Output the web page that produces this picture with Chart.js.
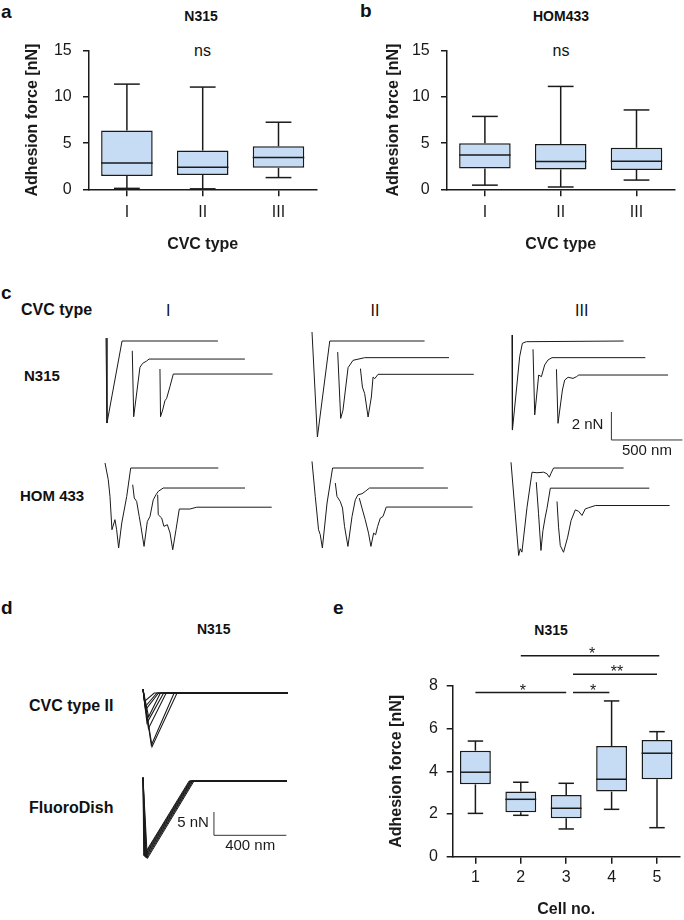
<!DOCTYPE html>
<html>
<head>
<meta charset="utf-8">
<script src="https://cdn.jsdelivr.net/npm/chart.js@4.4.1/dist/chart.umd.min.js"></script>
<style>
  html, body { margin: 0; padding: 0; }
  body { width: 684px; height: 920px; position: relative; overflow: hidden; background: #fff;
         font-family: "Liberation Sans", Arial, sans-serif; color: #111; }
  canvas { position: absolute; }
  .lbl { position: absolute; white-space: nowrap; line-height: 1; transform: translateY(-50%); }
  .mid { transform: translate(-50%, -50%); }
  .b { font-weight: bold; }
</style>
</head>
<body>
<!-- panel letters and free labels -->
<div class="lbl b" style="left:1px;top:11.3px;font-size:19px">a</div>
<div class="lbl b" style="left:360px;top:10px;font-size:19px">b</div>
<div class="lbl b" style="left:1px;top:292px;font-size:19px">c</div>
<div class="lbl b" style="left:1px;top:606.7px;font-size:19px">d</div>
<div class="lbl b" style="left:333px;top:606.7px;font-size:19px">e</div>

<div class="lbl mid b" style="left:201px;top:16px;font-size:14px">N315</div>
<div class="lbl mid" style="left:202.5px;top:51px;font-size:16px">ns</div>
<div class="lbl mid b" style="left:561px;top:16px;font-size:14px">HOM433</div>
<div class="lbl mid" style="left:561px;top:51px;font-size:16px">ns</div>

<div class="lbl b" style="left:21px;top:310px;font-size:16px">CVC type</div>
<div class="lbl mid" style="left:168.3px;top:310.5px;font-size:16px">I</div>
<div class="lbl mid" style="left:375px;top:310.5px;font-size:16px">II</div>
<div class="lbl mid" style="left:581.7px;top:310.5px;font-size:16px">III</div>
<div class="lbl b" style="left:24px;top:375px;font-size:15px">N315</div>
<div class="lbl b" style="left:20px;top:495px;font-size:15px">HOM 433</div>

<div class="lbl mid b" style="left:213.7px;top:629px;font-size:14px">N315</div>
<div class="lbl b" style="left:29px;top:706px;font-size:16px">CVC type II</div>
<div class="lbl b" style="left:29px;top:807.5px;font-size:16px">FluoroDish</div>

<div class="lbl mid b" style="left:551px;top:630px;font-size:14px">N315</div>

<canvas id="boxA" width="326" height="230" style="left:0;top:30px"></canvas>
<canvas id="boxB" width="326" height="230" style="left:358.3px;top:30px"></canvas>
<canvas id="boxE" width="344" height="320" style="left:340px;top:600px"></canvas>

<canvas id="cN1" width="180" height="150" style="left:101px;top:311px"></canvas>
<canvas id="cN2" width="180" height="150" style="left:307.3px;top:310.7px"></canvas>
<canvas id="cN3" width="180" height="150" style="left:507.3px;top:311px"></canvas>
<canvas id="cH1" width="180" height="150" style="left:100px;top:438.3px"></canvas>
<canvas id="cH2" width="180" height="150" style="left:306.7px;top:438.3px"></canvas>
<canvas id="cH3" width="180" height="150" style="left:505.7px;top:437.5px"></canvas>

<canvas id="dCvc" width="160" height="90" style="left:137.5px;top:673px"></canvas>
<canvas id="dFluoro" width="160" height="110" style="left:138.3px;top:760.7px"></canvas>

<script>
// ---- box plots (nN) ----
const cvcTypes = ['I', 'II', 'III'];
const n315Min = [0.1, 0.05, 1.27];
const n315Q1  = [1.44, 1.55, 2.33];
const n315Med = [2.86, 2.4, 3.46];
const n315Q3  = [6.36, 4.2, 4.66];
const n315Max = [11.4, 11.08, 7.27];

const homMin = [0.45, 0.25, 1.0];
const homQ1  = [2.25, 2.15, 2.1];
const homMed = [3.73, 3.0, 3.05];
const homQ3  = [5.0, 4.9, 4.5];
const homMax = [7.9, 11.15, 8.6];

const cellNos = ['1', '2', '3', '4', '5'];
const cellMin = [2.03, 1.94, 1.3, 2.22, 1.36];
const cellQ1  = [3.39, 2.08, 1.8, 3.05, 3.63];
const cellMed = [3.96, 2.69, 2.27, 3.63, 4.85];
const cellQ3  = [4.97, 3.05, 2.89, 5.19, 5.47];
const cellMax = [5.42, 3.49, 3.44, 7.3, 5.86];

// significance brackets in panel e (cell no. from/to, level in nN)
const sigFrom  = [1, 3.15, 3.15, 2];
const sigTo    = [3, 3.95, 5.0, 5.05];
const sigLevel = [7.69, 7.69, 8.55, 9.42];
const sigMark  = ['*', '*', '**', '*'];

// ---- force curves [distance nm, force nN], per trace shift [nm, nN] ----
const n315TypeI = [
  [[0,0.21],[7,-5.86],[113,0],[788,0]],
  [[0,0.59],[10,-4.12],[54,-0.59],[73,-0.31],[101,-0.14],[118,0],[793,0]],
  [[0,0.36],[4,-3.05],[19,-2.57],[35,-1.91],[47,-1.74],[70,-0.91],[94,0],[793,0]]
];
const n315TypeII = [
  [[0,0.64],[38,-6.86],[125,0],[793,0]],
  [[0,0.4],[21,-4.34],[37,-3.76],[73,-0.71],[108,-0.19],[190,0],[784,0]],
  [[0,0.41],[14,-0.91],[30,-1.38],[54,-3.05],[77,-1.62],[89,-0.19],[101,-0.31],[124,0],[798,0]]
];
const n315TypeIII = [
  [[0,0.43],[3,-6.36],[31,-3.5],[54,-1.12],[73,-0.16],[101,-0.05],[786,0]],
  [[0,0.6],[12,-4.09],[40,-1.24],[59,-1.36],[82,-0.52],[106,-0.16],[134,0],[791,0]],
  [[0,0.41],[11,-3.45],[42,-1.07],[58,-0.36],[82,-0.16],[117,-0.24],[141,-0.12],[157,0],[786,0]]
];
const homTypeI = [
  [[0,0.36],[23,-0.84],[35,-2.03],[49,-4.41],[70,-3.69],[82,-4.41],[96,-5.71],[118,-3.93],[153,-2.03],[181,0],[798,0]],
  [[0,0.24],[11,-0.71],[28,-0.96],[46,-2.03],[58,-2.74],[80,-4.17],[103,-2.39],[122,-2.03],[145,-0.84],[164,-0.48],[180,-0.24],[215,0],[791,0]],
  [[0,0.89],[4,-0.54],[28,-0.77],[44,-1.37],[68,-1.25],[87,-1.84],[106,-3.04],[129,-1.61],[152,-0.13],[227,-0.13],[275,0],[803,0]]
];
const homTypeII = [
  [[0,0.47],[23,-2.03],[46,-4.41],[58,-4.76],[73,-5.71],[106,-2.5],[145,0],[786,0]],
  [[0,0.36],[12,-0.6],[35,-0.96],[51,-1.43],[65,-2.74],[89,-4.17],[118,-2.03],[141,-0.84],[160,-0.48],[188,-0.41],[211,-0.24],[241,0],[793,0]],
  [[0,0.64],[19,-0.07],[42,-0.91],[65,-1.86],[82,-2.81],[101,-1.86],[115,-1.98],[129,-1.39],[148,-0.79],[167,-0.67],[190,0],[798,0]]
];
const homTypeIII = [
  [[0,0.41],[30,-3.27],[54,-6.25],[65,-5.77],[77,-6.01],[113,-2.8],[148,-0.3],[183,-0.34],[230,-0.3],[253,-0.41],[270,-0.66],[282,-0.37],[300,0],[793,0]],
  [[0,0.43],[16,-1.83],[33,-4.45],[47,-3.02],[63,-2.07],[75,-1.47],[99,0],[796,0]],
  [[0,0.29],[11,-1.55],[23,-2.86],[46,-3.34],[75,-2.26],[99,-1.07],[129,-0.31],[152,-0.41],[176,-0.71],[199,-0.24],[222,-0.16],[270,0],[793,0]]
];
const shiftN1 = [[0,0],[185,-1.29],[380,-2.36]];
const shiftN2 = [[0,0],[181,-1.19],[341,-2.38]];
const shiftN3 = [[0,0],[148,-1.19],[313,-2.43]];
const shiftH1 = [[0,0],[195,-1.43],[371,-2.8]];
const shiftH2 = [[0,0],[164,-1.43],[333,-2.79]];
const shiftH3 = [[0,0],[178,-1.44],[324,-2.68]];

// panel d: overlaid curves, adhesion peak (nm, nN) and rupture distance (nm)
const cvcPeakNm   = [50, 46, 30, 22, 31, 14, 13, 8];
const cvcPeakNn   = [-11.5, -11.2, -7.6, -6.4, -5.1, -3.6, -2.9, -1.8];
const cvcRuptNm   = [188, 172, 128, 114, 96, 86, 77, 62];
const fluoPeakNm  = [4, 6, 9, 11, 14, 17, 20, 24];
const fluoPeakNn  = [-15.9, -16.0, -16.1, -16.2, -16.3, -16.4, -16.5, -16.6];
const fluoRuptNm  = [255, 259, 262, 266, 269, 273, 277, 282];

const ink = '#1a1a1a';
const boxFill = '#c6dcf4';
Chart.defaults.font.family = '"Liberation Sans", Arial, sans-serif';
Chart.defaults.color = ink;

const boxWhiskers = {
  id: 'boxWhiskers',
  afterDatasetsDraw(chart, args, o) {
    if (!o.med) return;
    const { ctx, scales: { y } } = chart;
    const bars = chart.getDatasetMeta(0).data;
    const seg = (x0, y0, x1, y1) => { ctx.beginPath(); ctx.moveTo(x0, y0); ctx.lineTo(x1, y1); ctx.stroke(); };
    ctx.save();
    ctx.strokeStyle = ink;
    ctx.lineWidth = 1.5;
    bars.forEach((bar, i) => {
      const cx = bar.x, half = bar.width / 2, cap = bar.width / 4;
      const yHi = y.getPixelForValue(o.hi[i]), yLo = y.getPixelForValue(o.lo[i]);
      seg(cx, y.getPixelForValue(o.q3[i]), cx, yHi);
      seg(cx, y.getPixelForValue(o.q1[i]), cx, yLo);
      seg(cx - cap, yHi, cx + cap, yHi);
      seg(cx - cap, yLo, cx + cap, yLo);
      const ym = y.getPixelForValue(o.med[i]);
      seg(cx - half, ym, cx + half, ym);
    });
    ctx.restore();
  }
};

const sigBars = {
  id: 'sigBars',
  afterDraw(chart, args, o) {
    if (!o.from) return;
    const { ctx, scales: { x, y } } = chart;
    ctx.save();
    ctx.strokeStyle = ink;
    ctx.fillStyle = ink;
    ctx.lineWidth = 1.5;
    ctx.font = '16px "Liberation Sans", Arial';
    ctx.textAlign = 'center';
    ctx.textBaseline = 'alphabetic';
    o.from.forEach((f, i) => {
      const x0 = x.getPixelForValue(f - 1), x1 = x.getPixelForValue(o.to[i] - 1);
      const yy = y.getPixelForValue(o.level[i]);
      ctx.beginPath(); ctx.moveTo(x0, yy); ctx.lineTo(x1, yy); ctx.stroke();
      ctx.fillText(o.mark[i], (x0 + x1) / 2 + 2, yy + 3);
    });
    ctx.restore();
  }
};

const scaleBar = {
  id: 'scaleBar',
  afterDraw(chart, args, o) {
    if (!o.len) return;
    const { ctx, scales: { x, y } } = chart;
    const x0 = x.getPixelForValue(o.at[0]), y0 = y.getPixelForValue(o.at[1]);
    const x1 = x.getPixelForValue(o.at[0] + o.len[0]), y1 = y.getPixelForValue(o.at[1] + o.len[1]);
    ctx.save();
    ctx.strokeStyle = '#333';
    ctx.lineWidth = 1;
    ctx.beginPath(); ctx.moveTo(x0, y1); ctx.lineTo(x0, y0); ctx.lineTo(x1, y0); ctx.stroke();
    ctx.fillStyle = ink;
    ctx.font = '15px "Liberation Sans", Arial';
    ctx.textAlign = 'right';
    ctx.textBaseline = 'middle';
    ctx.fillText(o.text[1], x0 - o.gap, (y0 + y1) / 2 - 1);
    ctx.textAlign = 'center';
    ctx.textBaseline = 'top';
    ctx.fillText(o.text[0], (x0 + x1) / 2, y0 + 3);
    ctx.restore();
  }
};

Chart.register(boxWhiskers, sigBars, scaleBar);

function boxChart(id, labels, lo, q1, med, q3, hi, g) {
  return new Chart(document.getElementById(id), {
    type: 'bar',
    data: {
      labels: labels,
      datasets: [{
        data: q1.map((v, i) => [v, q3[i]]),
        backgroundColor: boxFill,
        borderColor: ink,
        borderWidth: 1.5,
        borderSkipped: false,
        barPercentage: 0.68,
        categoryPercentage: 1
      }]
    },
    options: {
      responsive: false,
      animation: false,
      events: [],
      layout: { padding: g.pad },
      plugins: {
        legend: { display: false },
        tooltip: { enabled: false },
        boxWhiskers: { lo: lo, q1: q1, med: med, q3: q3, hi: hi },
        sigBars: g.sig || {}
      },
      scales: {
        x: {
          grid: { offset: false, drawOnChartArea: false, tickLength: 7, color: ink, lineWidth: 1.5 },
          border: { color: ink, width: 1.5 },
          ticks: { font: { size: 16 }, padding: g.xPad, color: ink },
          title: { display: true, text: g.xTitle, font: { size: 16, weight: 'bold' }, color: ink,
                   padding: { top: 0, bottom: g.xTitlePad } },
          afterFit: s => { s.height = g.xh; }
        },
        y: {
          min: 0, max: g.ymax,
          grid: { drawOnChartArea: false, tickLength: 6, color: ink, lineWidth: 1.5 },
          border: { color: ink, width: 1.5 },
          ticks: { stepSize: g.step, font: { size: 16 }, padding: g.yPad, color: ink },
          title: { display: true, text: 'Adhesion force [nN]', font: { size: 16, weight: 'bold' }, color: ink,
                   padding: { top: g.yTitlePad, bottom: 0 } },
          afterFit: s => { s.width = g.yw; }
        }
      }
    }
  });
}

boxChart('boxA', cvcTypes, n315Min, n315Q1, n315Med, n315Q3, n315Max, {
  pad: { left: 0, right: 9.6, top: 17.7, bottom: 0 }, xh: 70.7, yw: 89,
  ymax: 15, step: 5, xPad: 6.6, yPad: 11.3, xTitle: 'CVC type', xTitlePad: 5.4, yTitlePad: 22.9
});
boxChart('boxB', cvcTypes, homMin, homQ1, homMed, homQ3, homMax, {
  pad: { left: 0, right: 9.6, top: 17.7, bottom: 0 }, xh: 70.7, yw: 89,
  ymax: 15, step: 5, xPad: 6.6, yPad: 11.3, xTitle: 'CVC type', xTitlePad: 5.4, yTitlePad: 26.1
});
boxChart('boxE', cellNos, cellMin, cellQ1, cellMed, cellQ3, cellMax, {
  pad: { left: 0, right: 4.3, top: 86, bottom: 0 }, xh: 63.3, yw: 112.7,
  ymax: 8, step: 2, xPad: 4.7, yPad: 8.9, xTitle: 'Cell no.', xTitlePad: 0.4, yTitlePad: 47.4,
  sig: { from: sigFrom, to: sigTo, level: sigLevel, mark: sigMark }
});

// force-curve panels: kx px per nm, ky px per nN, origin inset (padL, padT) px
function traceChart(id, traces, shifts, kx, ky, padL, padT, width, bar) {
  const cv = document.getElementById(id);
  return new Chart(cv, {
    type: 'scatter',
    data: {
      datasets: traces.map((tr, i) => ({
        data: tr.map(p => ({ x: p[0] + (shifts ? shifts[i][0] : 0), y: p[1] + (shifts ? shifts[i][1] : 0) })),
        showLine: true,
        borderColor: ink,
        borderWidth: width,
        pointRadius: 0,
        tension: 0
      }))
    },
    options: {
      responsive: false,
      animation: false,
      events: [],
      layout: { padding: 0 },
      plugins: { legend: { display: false }, tooltip: { enabled: false }, scaleBar: bar || {} },
      scales: {
        x: { type: 'linear', display: false, min: -padL / kx, max: (cv.width - padL) / kx },
        y: { type: 'linear', display: false, min: -(cv.height - padT) / ky, max: padT / ky }
      }
    }
  });
}

const kxC = 0.142, kyC = 14;
traceChart('cN1', n315TypeI, shiftN1, kxC, kyC, 5, 30, 1);
traceChart('cN2', n315TypeII, shiftN2, kxC, kyC, 5, 30, 1);
traceChart('cN3', n315TypeIII, shiftN3, kxC, kyC, 5, 30, 1,
  { at: [700, -7.07], len: [500, 2], text: ['500 nm', '2 nN'], gap: 8 });
traceChart('cH1', homTypeI, shiftH1, kxC, kyC, 5, 30, 1);
traceChart('cH2', homTypeII, shiftH2, kxC, kyC, 5, 30, 1);
traceChart('cH3', homTypeIII, shiftH3, kxC, kyC, 5, 30, 1);

const cvcCurves = cvcPeakNm.map((p, i) => [[0, 0.8], [p, cvcPeakNn[i]], [cvcRuptNm[i], 0], [800, 0]]);
const fluoCurves = fluoPeakNm.map((p, i) => [[0, 0.73], [p, fluoPeakNn[i]], [fluoRuptNm[i], 0], [795, 0]]);
const kxD = 0.181, kyD = 4.67;
traceChart('dCvc', cvcCurves, null, kxD, kyD, 5, 20, 1.1);
traceChart('dFluoro', fluoCurves, null, kxD, kyD, 5, 20, 1,
  { at: [392, -11.63], len: [400, 5], text: ['400 nm', '5 nN'], gap: 5 });
</script>
</body>
</html>
